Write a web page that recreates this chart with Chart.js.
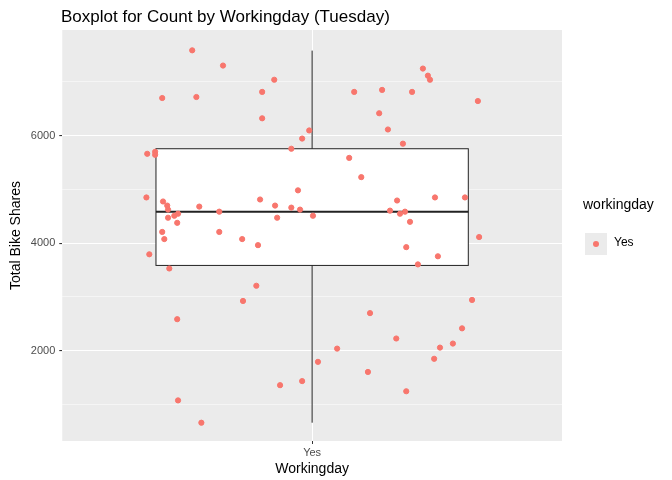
<!DOCTYPE html>
<html>
<head>
<script src="https://cdn.jsdelivr.net/npm/chart.js@4"></script>
<style>
  body { margin: 0; background: #fff; font-family: "Liberation Sans", Arial, sans-serif; }
  #wrap { position: relative; width: 672px; height: 480px; }
  #title { position: absolute; left: 61px; top: 7px; font-size: 17px; color: #000; }
  #leg { position: absolute; left: 583px; top: 196px; font-size: 14px; color: #000; }
  #leg .key { position: absolute; left: 2px; top: 37px; width: 22px; height: 22px; background: #EBEBEB; }
  #leg .dot { position: absolute; left: 8px; top: 8px; width: 6px; height: 6px; border-radius: 50%; background: #F8766D; }
  #leg .lab { position: absolute; left: 31px; top: 39px; font-size: 12px; }
</style>
</head>
<body>
<div id="wrap">
  <canvas id="canvas" width="672" height="480"></canvas>
  <div id="title">Boxplot for Count by Workingday (Tuesday)</div>
  <div id="leg">workingday<div class="key"><div class="dot"></div></div><div class="lab">Yes</div></div>
</div>
<script>
// Jitter-Punkte (x = Versatz um die Kategorie, y = Anzahl)
const jitterX = [-0.288,-0.214,-0.091,-0.120,-0.360,-0.278,-0.120,0.266,0.278,0.283,0.168,0.101,0.240,0.398,0.161,0.182,0.218,
  -0.007,-0.024,-0.050,-0.396,-0.377,-0.377,0.089,0.118,-0.398,-0.358,-0.348,-0.346,-0.271,-0.322,-0.346,-0.331,-0.324,
  -0.223,-0.050,-0.125,-0.089,-0.034,-0.029,0.002,-0.084,0.367,0.295,0.223,0.204,0.211,0.187,0.235,-0.223,-0.168,-0.360,
  -0.355,-0.130,0.226,-0.391,0.302,0.254,0.401,-0.343,-0.134,-0.166,-0.324,0.139,0.384,0.360,0.202,0.338,0.293,0.307,
  0.014,0.060,0.134,-0.077,-0.024,0.226,-0.322,-0.266];
const counts = [7585,7302,7038,6812,6698,6717,6321,7246,7114,7038,6849,6812,6812,6642,6415,6113,5849,
  6095,5944,5755,5661,5698,5642,5585,5227,4849,4774,4698,4623,4679,4547,4472,4509,4377,
  4585,4660,4811,4698,4981,4623,4509,4472,4849,4849,4585,4792,4547,4604,4396,4208,4075,4208,
  4075,3962,3925,3792,3755,3604,4113,3528,3207,2924,2585,2698,2943,2415,2226,2132,1849,2057,
  1792,2038,1604,1358,1434,1245,1075,660];

// Boxplot-Kennzahlen
const boxStats = { min: 660, q1: 3585, median: 4585, q3: 5755, max: 7580 };
const boxHalfWidth = 0.375;
const yTicks = [2000, 4000, 6000];
const categories = ['Yes'];

const panelBg = {
  id: 'panelBg',
  beforeDraw(chart) {
    const a = chart.chartArea, c = chart.ctx;
    c.save(); c.fillStyle = '#EBEBEB';
    c.fillRect(a.left, a.top, a.right - a.left, a.bottom - a.top);
    c.restore();
  }
};

const boxPlot = {
  id: 'boxPlot',
  beforeDatasetsDraw(chart) {
    const x = chart.scales.x, y = chart.scales.y, c = chart.ctx;
    const cx = x.getPixelForValue(0);
    const l = x.getPixelForValue(-boxHalfWidth), r = x.getPixelForValue(boxHalfWidth);
    c.save();
    c.strokeStyle = '#222'; c.lineWidth = 1;
    c.beginPath();
    c.moveTo(cx, y.getPixelForValue(boxStats.min)); c.lineTo(cx, y.getPixelForValue(boxStats.max));
    c.stroke();
    const t = y.getPixelForValue(boxStats.q3), b = y.getPixelForValue(boxStats.q1);
    c.fillStyle = '#fff';
    c.fillRect(l, t, r - l, b - t);
    c.strokeRect(l, t, r - l, b - t);
    c.lineWidth = 2;
    const m = y.getPixelForValue(boxStats.median);
    c.beginPath(); c.moveTo(l, m); c.lineTo(r, m); c.stroke();
    c.restore();
  }
};

const points = jitterX.map((x, i) => ({ x: x, y: counts[i] }));

new Chart(document.querySelector('#canvas'), {
  type: 'scatter',
  data: { datasets: [{ data: points, backgroundColor: '#F8766D', borderColor: '#F8766D', pointRadius: 2.6, pointHoverRadius: 2.6 }] },
  plugins: [panelBg, boxPlot],
  options: {
    responsive: false, animation: false,
    layout: { padding: { top: 30, right: 110, left: 4, bottom: 0 } },
    plugins: { legend: { display: false }, tooltip: { enabled: false } },
    scales: {
      x: {
        type: 'linear', min: -0.6, max: 0.6,
        afterBuildTicks: s => { s.ticks = categories.map((c, i) => ({ value: i })); },
        ticks: { callback: (v, i) => categories[i], color: '#4D4D4D', font: { size: 11, family: 'Liberation Sans' }, padding: 2 },
        grid: { color: '#fff', lineWidth: 1, drawTicks: true, tickLength: 3, tickColor: '#333' },
        border: { display: false },
        title: { display: true, text: 'Workingday', color: '#000', font: { size: 14, family: 'Liberation Sans' }, padding: { top: 0, bottom: 2 } }
      },
      y: {
        min: 320, max: 7963,
        afterBuildTicks: s => {
          const t = [];
          for (let v = 1000; v <= 7000; v += 1000) t.push({ value: v });
          s.ticks = t;
        },
        ticks: { callback: v => yTicks.includes(v) ? v : '', color: '#4D4D4D', font: { size: 11, family: 'Liberation Sans' }, padding: 4 },
        grid: {
          color: '#fff',
          lineWidth: ctx => yTicks.includes(ctx.tick.value) ? 1.1 : 0.5,
          tickLength: 3,
          tickColor: ctx => yTicks.includes(ctx.tick.value) ? '#333' : 'rgba(0,0,0,0)'
        },
        border: { display: false },
        title: { display: true, text: 'Total Bike Shares', color: '#000', font: { size: 14, family: 'Liberation Sans' }, padding: { bottom: 2 } }
      }
    }
  }
});
</script>
</body>
</html>
